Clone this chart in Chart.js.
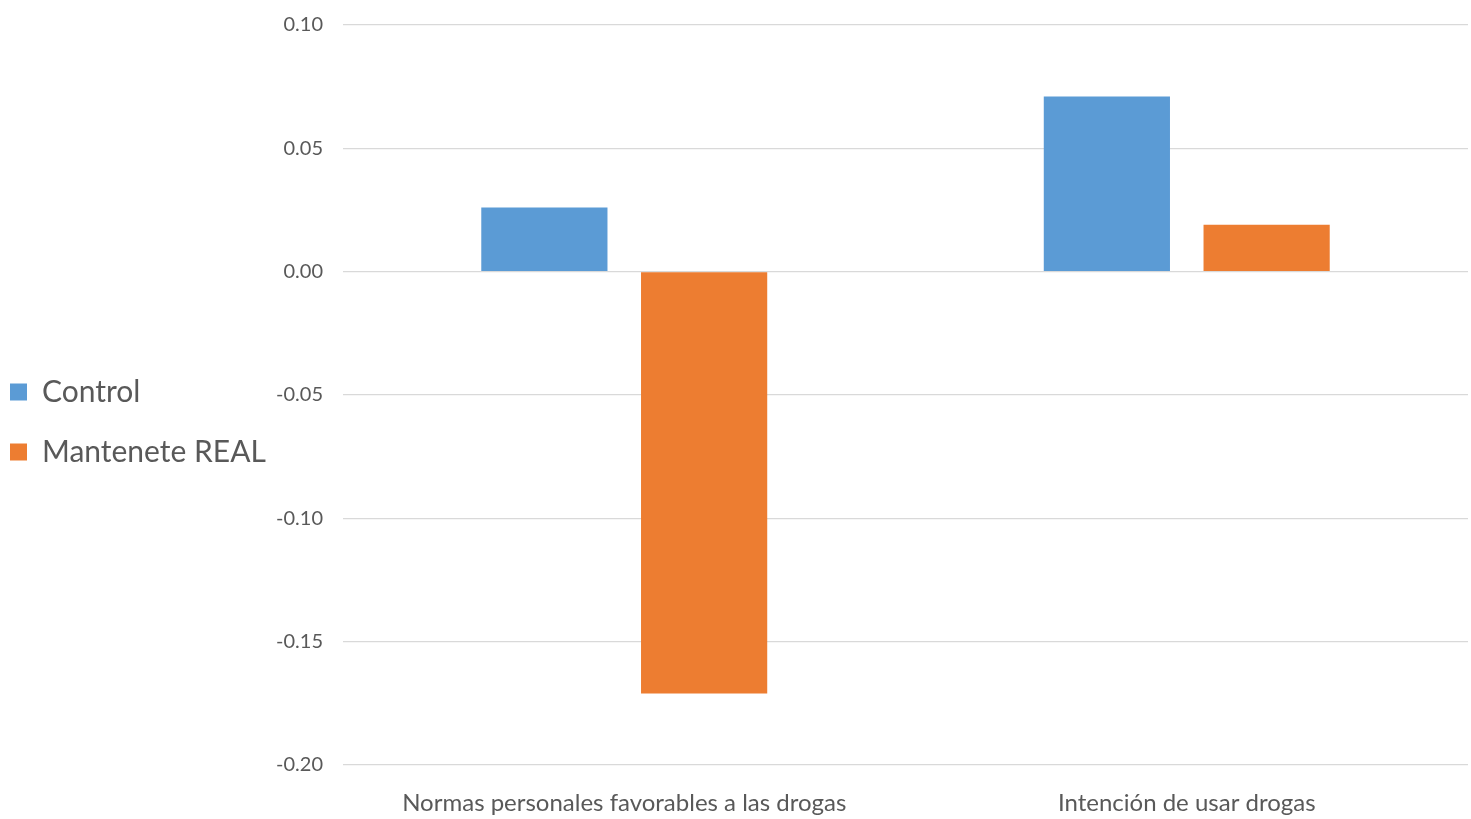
<!DOCTYPE html>
<html>
<head>
<meta charset="utf-8">
<script src="https://cdn.jsdelivr.net/npm/chart.js@4/dist/chart.umd.min.js"></script>
<style>
  html, body { margin: 0; padding: 0; background: #fff; }
  #wrap { width: 1471px; height: 819px; }
</style>
</head>
<body>
<div id="wrap"><canvas id="chart"></canvas></div>
<script>
// Chart data
const categories = ['Normas personales favorables a las drogas', 'Intención de usar drogas'];
const controlValues = [0.026, 0.071];
const mantenteValues = [-0.171, 0.019];
const seriesNames = ['Control', 'Mantenete REAL'];
const yTicks = [-0.20, -0.15, -0.10, -0.05, 0.00, 0.05, 0.10];

const textColor = '#595959';
const fontFamily = 'Lato, "Open Sans", sans-serif';
const plotLeft = 343; // where the gridlines start in the reference

const ctx = document.getElementById('chart').getContext('2d');
new Chart(ctx, {
    type: 'bar',
    data: {
        labels: categories,
        datasets: [{
            label: seriesNames[0],
            data: controlValues,
            backgroundColor: '#5B9BD5'
        }, {
            label: seriesNames[1],
            data: mantenteValues,
            backgroundColor: '#ED7D31'
        }]
    },
    options: {
        responsive: true,
        maintainAspectRatio: false,
        animation: false,
        categoryPercentage: 0.568,
        barPercentage: 0.79,
        layout: { padding: { top: 25, right: 3, bottom: 0, left: -20 } },
        plugins: {
            legend: {
                position: 'left',
                labels: {
                    color: textColor,
                    font: { family: fontFamily, size: 30 },
                    boxWidth: 17,
                    boxHeight: 17,
                    padding: 30
                }
            },
            tooltip: { enabled: false }
        },
        scales: {
            x: {
                grid: { display: false, drawTicks: false },
                border: { display: false },
                afterFit: scale => { scale.height = 54; },
                ticks: {
                    color: textColor,
                    font: { family: fontFamily, size: 24 },
                    padding: 24,
                    maxRotation: 0
                }
            },
            y: {
                min: -0.20,
                max: 0.10,
                afterBuildTicks: scale => {
                    scale.ticks = yTicks.map(v => ({ value: v }));
                },
                // push the plot area so it starts where the reference does
                afterFit: scale => {
                    const lg = scale.chart.legend;
                    scale.width = Math.max(60, plotLeft + 20 - (lg ? lg.width : 0));
                    scale.paddingTop = 0;
                    scale.paddingBottom = 0;
                },
                grid: { color: '#D9D9D9', lineWidth: 1.3, drawTicks: false },
                border: { display: false },
                ticks: {
                    color: textColor,
                    font: { family: fontFamily, size: 20 },
                    padding: 20,
                    callback: v => v.toFixed(2)
                }
            }
        }
    }
});
</script>
</body>
</html>
